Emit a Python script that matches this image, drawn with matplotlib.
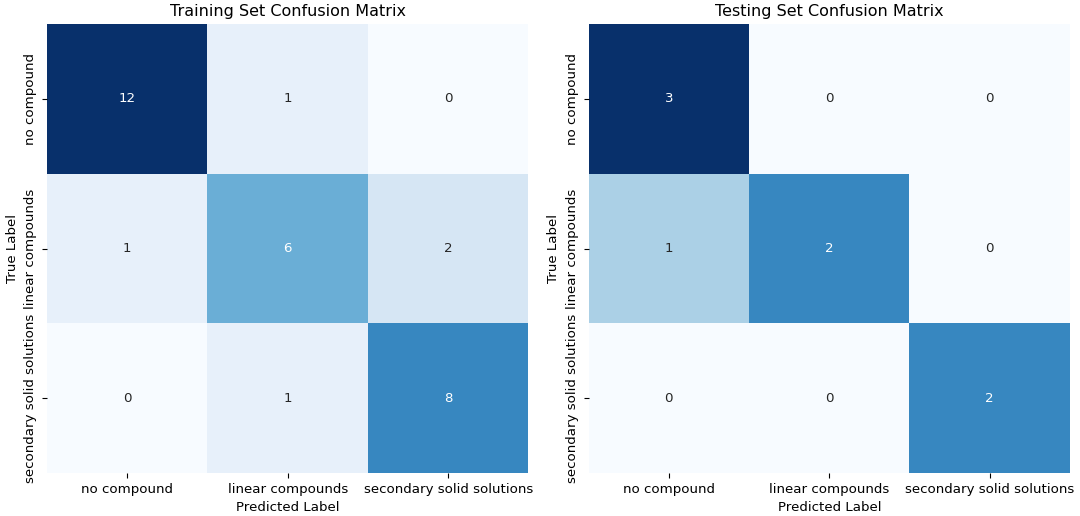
import numpy as np
import matplotlib
matplotlib.use("Agg")
import matplotlib.pyplot as plt
import seaborn as sns

labels = ["no compound", "linear compounds", "secondary solid solutions"]
train_cm = np.array([[12, 1, 0],
                     [1, 6, 2],
                     [0, 1, 8]])
test_cm = np.array([[3, 0, 0],
                    [1, 2, 0],
                    [0, 0, 2]])

plt.rcParams['font.size'] = 9.6

fig, axes = plt.subplots(1, 2, figsize=(10.8, 5.16), dpi=100)
plt.subplots_adjust(left=0.0435, right=0.9907, top=0.9535, bottom=0.0833, wspace=0.125)

for ax, cm, title in zip(axes, [train_cm, test_cm],
                         ["Training Set Confusion Matrix", "Testing Set Confusion Matrix"]):
    sns.heatmap(cm, annot=True, fmt="d", cmap="Blues", cbar=False,
                xticklabels=labels, yticklabels=labels, ax=ax)
    ax.set_title(title)
    ax.set_xlabel("Predicted Label")
    ax.set_ylabel("True Label")
    plt.setp(ax.get_xticklabels(), rotation=0)
    plt.setp(ax.get_yticklabels(), rotation=90, va="center")

plt.savefig("out.png")
